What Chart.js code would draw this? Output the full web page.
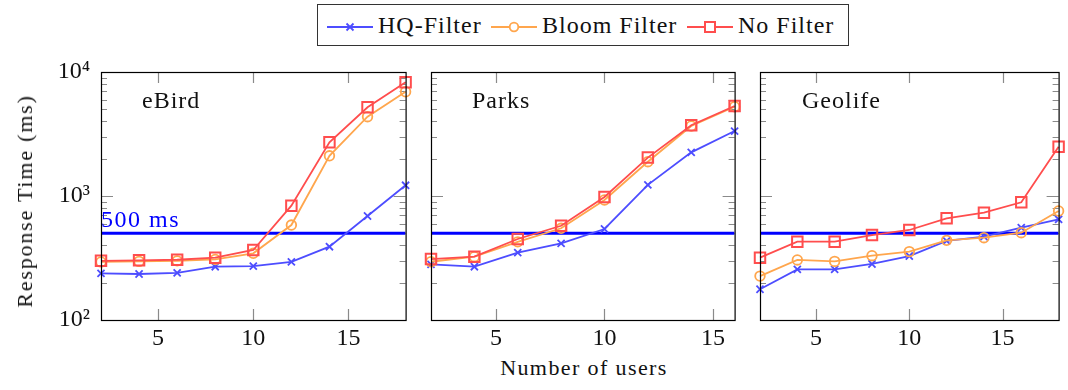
<!DOCTYPE html>
<html>
<head>
<meta charset="utf-8">
<script src="https://cdn.jsdelivr.net/npm/chart.js@4.4.0/dist/chart.umd.min.js"></script>
<style>
  body { margin: 0; background: #fff; width: 1068px; height: 390px; position: relative; overflow: hidden;
         font-family: "Liberation Serif", "DejaVu Serif", serif; color: #111; }
  canvas { position: absolute; top: 60px; }
  .txt { position: absolute; white-space: nowrap; line-height: 1; }
  #legend { position: absolute; left: 317px; top: 4px; width: 530px; height: 40px; border: 1px solid #333; }
  #legend svg { position: absolute; top: 16px; }
</style>
</head>
<body>
<canvas id="ebird" width="415" height="295" style="left:0px"></canvas>
<canvas id="parks" width="324" height="295" style="left:420px"></canvas>
<canvas id="geolife" width="319" height="295" style="left:749px"></canvas>

<div id="legend">
  <svg width="46" height="12" style="left:9px"><line x1="0" y1="6" x2="46" y2="6" stroke="#4d4dff" stroke-width="1.8"/><path d="M19.5 2.5 L26.5 9.5 M26.5 2.5 L19.5 9.5" stroke="#4d4dff" stroke-width="1.8"/></svg>
  <div class="txt" style="left:60px;top:8px;font-size:24px;letter-spacing:1px">HQ-Filter</div>
  <svg width="46" height="12" style="left:173px"><line x1="0" y1="6" x2="46" y2="6" stroke="#ffa64d" stroke-width="1.8"/><circle cx="23" cy="6" r="4.3" fill="#fff" stroke="#ffa64d" stroke-width="1.8"/></svg>
  <div class="txt" style="left:224px;top:8px;font-size:24px;letter-spacing:1px">Bloom Filter</div>
  <svg width="46" height="12" style="left:369px"><line x1="0" y1="6" x2="46" y2="6" stroke="#ff4d4d" stroke-width="1.8"/><rect x="18" y="1" width="10" height="10" fill="#fff" stroke="#ff4d4d" stroke-width="2"/></svg>
  <div class="txt" style="left:420px;top:8px;font-size:24px;letter-spacing:1px">No Filter</div>
</div>

<div class="txt" style="left:142px;top:88px;font-size:24px;letter-spacing:1px">eBird</div>
<div class="txt" style="left:472px;top:88px;font-size:24px;letter-spacing:1px">Parks</div>
<div class="txt" style="left:802px;top:88px;font-size:24px;letter-spacing:1px">Geolife</div>
<div class="txt" style="left:101px;top:207px;font-size:24px;letter-spacing:1.5px;color:#0000ff">500 ms</div>
<div class="txt" style="left:584px;top:357px;font-size:22px;letter-spacing:1.4px;transform:translateX(-50%)">Number of users</div>
<div class="txt" style="left:25px;top:201px;font-size:22px;letter-spacing:1.8px;transform:translate(-50%,-50%) rotate(-90deg)">Response Time (ms)</div>

<script>
// number of concurrent users on the x axis
const users = [2, 4, 6, 8, 10, 12, 14, 16, 18];
const usersParks = [2, 4, 6, 8, 10, 12, 14, 16];

// response times in ms, one array per dataset and filter
const ebirdHQ = [238, 235, 240, 269, 272, 294, 390, 690, 1220];
const ebirdBloom = [294, 297, 300, 308, 345, 583, 2110, 4360, 6930];
const ebirdNone = [300, 303, 306, 318, 367, 836, 2710, 5190, 8260];

const parksHQ = [281, 269, 349, 415, 542, 1230, 2250, 3340];
const parksBloom = [295, 324, 427, 549, 929, 1890, 3670, 5250];
const parksNone = [310, 324, 450, 575, 982, 2040, 3720, 5320];

const geoHQ = [177, 256, 256, 283, 328, 434, 470, 555, 649];
const geoBloom = [226, 305, 297, 330, 356, 439, 461, 506, 757];
const geoNone = [318, 428, 428, 484, 532, 661, 733, 889, 2500];

const threshold = 500;
const xTicks = [5, 10, 15];
const yTicks = [100, 1000, 10000];
const yTickLabels = ['10²', '10³', '10⁴'];

const HQ_COLOR = '#4d4dff';
const BLOOM_COLOR = '#ffa64d';
const NONE_COLOR = '#ff4d4d';

const FONT = '"Liberation Serif", "DejaVu Serif", serif';

// pgfplots-style box: inward ticks on all four sides, frame on top
const axisBox = {
    id: 'axisBox',
    beforeDatasetsDraw(chart) {
        const { ctx, chartArea: a, scales } = chart;
        ctx.save();
        ctx.strokeStyle = '#8a8a8a';
        ctx.lineWidth = 1.2;
        ctx.beginPath();
        xTicks.forEach(v => {
            const x = Math.round(scales.x.getPixelForValue(v)) + 0.5;
            ctx.moveTo(x, a.top); ctx.lineTo(x, a.top + 11);
            ctx.moveTo(x, a.bottom); ctx.lineTo(x, a.bottom - 11);
        });
        for (let dec = 100; dec < 10000; dec *= 10) {
            for (let k = 1; k < 10; k++) {
                const v = k * dec;
                if (v === 100) continue;
                const len = k === 1 ? 12 : 6;
                const y = Math.round(scales.y.getPixelForValue(v)) + 0.5;
                ctx.moveTo(a.left, y); ctx.lineTo(a.left + len, y);
                ctx.moveTo(a.right, y); ctx.lineTo(a.right - len, y);
            }
        }
        ctx.stroke();
        ctx.restore();
    },
    afterDraw(chart) {
        const { ctx, chartArea: a } = chart;
        ctx.save();
        ctx.strokeStyle = '#000';
        ctx.lineWidth = 1.2;
        ctx.strokeRect(a.left + 0.5, a.top + 0.5, a.right - a.left, a.bottom - a.top);
        ctx.restore();
    }
};

function series(xs, ys) {
    return xs.map((x, i) => ({ x: x, y: ys[i] }));
}

function makePanel(id, xs, hq, bloom, none, opts) {
    const xMax = xs[xs.length - 1];
    const ctx = document.getElementById(id).getContext('2d');
    return new Chart(ctx, {
        type: 'line',
        data: {
            datasets: [
                {
                    label: 'No Filter', data: series(xs, none), order: 0,
                    borderColor: NONE_COLOR, borderWidth: 1.8, pointStyle: 'rect',
                    pointRadius: 7.4, pointBorderWidth: 2, pointBorderColor: NONE_COLOR,
                    pointBackgroundColor: 'rgba(0,0,0,0)', clip: false
                },
                {
                    label: 'Bloom Filter', data: series(xs, bloom), order: 1,
                    borderColor: BLOOM_COLOR, borderWidth: 1.8, pointStyle: 'circle',
                    pointRadius: 4.8, pointBorderWidth: 1.8, pointBorderColor: BLOOM_COLOR,
                    pointBackgroundColor: 'rgba(0,0,0,0)', clip: false
                },
                {
                    label: 'HQ-Filter', data: series(xs, hq), order: 2,
                    borderColor: HQ_COLOR, borderWidth: 1.8, pointStyle: 'crossRot',
                    pointRadius: 5, pointBorderWidth: 1.8, pointBorderColor: HQ_COLOR,
                    clip: false
                },
                {
                    label: '500 ms', data: [{ x: xs[0], y: threshold }, { x: xMax, y: threshold }],
                    order: 3, borderColor: '#0000ff', borderWidth: 3, pointRadius: 0
                }
            ]
        },
        options: {
            responsive: false,
            animation: false,
            events: [],
            layout: { padding: { top: 12, right: opts.padRight, left: 0, bottom: 0 } },
            plugins: { legend: { display: false }, tooltip: { enabled: false } },
            scales: {
                x: {
                    type: 'linear', min: 2, max: xMax,
                    grid: { display: false, drawTicks: false },
                    border: { display: false },
                    afterBuildTicks: s => { s.ticks = xTicks.map(v => ({ value: v })); },
                    afterFit: s => { s.height = 35; s.paddingLeft = 0; s.paddingRight = 0; },
                    ticks: { padding: 4, color: '#111', font: { family: FONT, size: 24 } }
                },
                y: {
                    type: 'logarithmic', min: 100, max: 10000,
                    grid: { display: false, drawTicks: false },
                    border: { display: false },
                    afterBuildTicks: s => { s.ticks = yTicks.map(v => ({ value: v })); },
                    afterFit: s => { s.width = opts.yWidth; s.paddingTop = 0; s.paddingBottom = 0; },
                    ticks: {
                        display: opts.yLabels, padding: 11, color: '#111',
                        font: { family: FONT, size: 24 },
                        callback: v => yTickLabels[yTicks.indexOf(v)]
                    }
                }
            }
        },
        plugins: [axisBox]
    });
}

makePanel('ebird', users, ebirdHQ, ebirdBloom, ebirdNone, { yWidth: 101, padRight: 7, yLabels: true });
makePanel('parks', usersParks, parksHQ, parksBloom, parksNone, { yWidth: 11, padRight: 7, yLabels: false });
makePanel('geolife', users, geoHQ, geoBloom, geoNone, { yWidth: 11, padRight: 1, yLabels: false });
</script>
</body>
</html>
